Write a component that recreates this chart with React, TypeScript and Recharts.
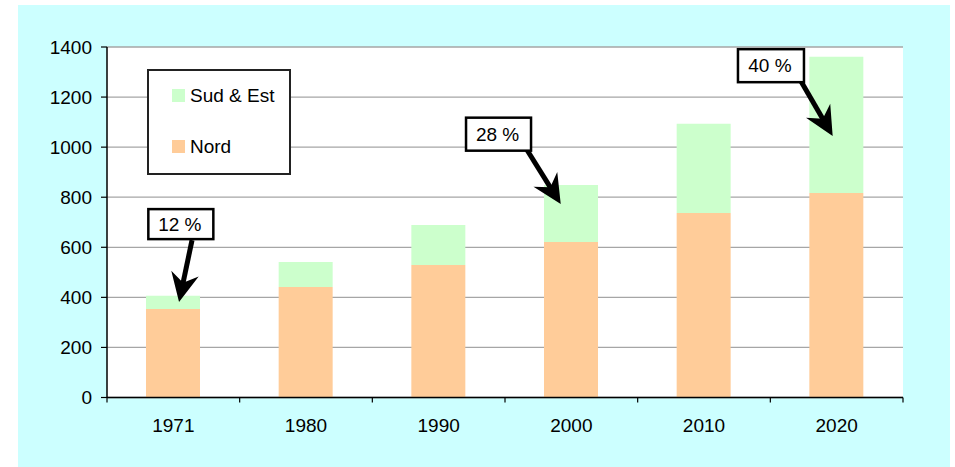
import React from "react";
import {Bar, BarChart, CartesianGrid, ReferenceDot, XAxis, YAxis} from "recharts";

const years = ['1971', '1980', '1990', '2000', '2010', '2020']
const nord = [353, 441, 529, 621, 737, 817]
const sudEst = [53, 100, 160, 228, 356, 544]
const yTicks = [0, 200, 400, 600, 800, 1000, 1200, 1400]

const calloutYears = ['1971', '2000', '2020']
const calloutLabels = ['12 %', '28 %', '40 %']
const calloutTipValues = [381, 773, 1045]

//  pixel geometry of the callouts, relative to the arrow tip
const calloutShapes = [
  {dx: 5.7, box: [-30.7, -93, 65, 30], start: [13, -62]},
  {dx: -10.6, box: [-94.7, -86.3, 65, 33], start: [-33.7, -54]},
  {dx: -4, box: [-94.7, -86.7, 66, 33], start: [-31.7, -54.7]},
]

const NORD = '#FFCC99'
const SUD = '#CCFFCC'
const FONT = '"Liberation Sans", Arial, sans-serif'

const data = years.map((year, i) => ({year, nord: nord[i], sud: sudEst[i]}))

// legend shows the top series first
const legendItems = [
  {name: 'Sud & Est', color: SUD},
  {name: 'Nord', color: NORD},
]

function Callout(props: any, index: number) {
  const {cx, cy} = props
  const g = calloutShapes[index]
  const tx = cx + g.dx
  const ty = cy
  const sx = tx + g.start[0]
  const sy = ty + g.start[1]
  const len = Math.hypot(tx - sx, ty - sy)
  const ux = (tx - sx) / len
  const uy = (ty - sy) / len
  const nx = -uy
  const ny = ux
  const L = 29
  const W = 14
  const bx = tx - L * ux
  const by = ty - L * uy
  const notchX = tx - 0.68 * L * ux
  const notchY = ty - 0.68 * L * uy
  const head = `${tx},${ty} ${bx + W * nx},${by + W * ny} ${notchX},${notchY} ${bx - W * nx},${by - W * ny}`
  const [bl, bt, bw, bh] = g.box
  return (
    <g>
      <line x1={sx} y1={sy} x2={notchX + ux} y2={notchY + uy} stroke="#000" strokeWidth={5}/>
      <polygon points={head} fill="#000"/>
      <rect x={tx + bl} y={ty + bt} width={bw} height={bh} fill="#fff" stroke="#000" strokeWidth={2.5}/>
      <text x={tx + bl + bw / 2 - 1} y={ty + bt + bh / 2} textAnchor="middle" dominantBaseline="central"
            fontSize={19} fontFamily={FONT} fill="#000">{calloutLabels[index]}</text>
    </g>
  )
}

function YearTick(props: any) {
  const {x, y, payload, index} = props
  const off = payload?.offset ?? 66.33
  const isLast = index === years.length - 1
  return (
    <g>
      <line x1={x - off} y1={y - 5} x2={x - off} y2={y} stroke="#000" strokeWidth={1.2}/>
      {isLast && <line x1={x + off} y1={y - 5} x2={x + off} y2={y} stroke="#000" strokeWidth={1.2}/>}
      <text x={x} y={y + 29.5} textAnchor="middle" fontSize={19} fontFamily={FONT} fill="#000">
        {payload.value}
      </text>
    </g>
  )
}

function LegendBox() {
  return (
    <div style={{
      position: 'absolute', left: 147, top: 69, width: 144, height: 106, boxSizing: 'border-box',
      border: '2px solid #222', background: '#fff', fontFamily: FONT, fontSize: 19, color: '#000'
    }}>
      {legendItems.map((item, i) => (
        <div key={item.name} style={{position: 'absolute', left: 23, top: 16 + i * 51, display: 'flex', alignItems: 'center', height: 17}}>
          <span style={{display: 'inline-block', width: 13, height: 13, background: item.color, marginRight: 5}}/>
          <span style={{lineHeight: '17px', whiteSpace: 'nowrap'}}>{item.name}</span>
        </div>
      ))}
    </div>
  )
}

export default function App() {
  return (
    <div style={{position: 'absolute', left: 0, top: 0, width: 955, height: 467, fontFamily: FONT}}>
      <div style={{position: 'absolute', left: 18, top: 5, width: 932, height: 462, background: '#CCFFFF'}}/>
      <div style={{position: 'absolute', left: 0, top: 0}}>
        <BarChart width={955} height={467} data={data} margin={{top: 47, right: 52, left: 0, bottom: 0}}>
          <CartesianGrid vertical={false} stroke="#a6a6a6" strokeWidth={1.3} fill="#fff"/>
          <XAxis dataKey="year" height={69.5} axisLine={{stroke: '#000', strokeWidth: 1.5}} tickLine={false}
                 tickSize={5} tickMargin={0} tick={<YearTick/>} interval={0}/>
          <YAxis width={107} domain={[0, 1400]} ticks={yTicks} interval={0}
                 axisLine={{stroke: '#000', strokeWidth: 1.5}} tickLine={{stroke: '#000', strokeWidth: 1.2}}
                 tickSize={6} tickMargin={9} tick={{fontSize: 19, fill: '#000', fontFamily: FONT}}/>
          <Bar dataKey="nord" name="Nord" stackId="a" fill={NORD} barSize={54} isAnimationActive={false}/>
          <Bar dataKey="sud" name="Sud & Est" stackId="a" fill={SUD} barSize={54} isAnimationActive={false}/>
          {calloutYears.map((year, i) => (
            <ReferenceDot key={year} x={year} y={calloutTipValues[i]} r={0} ifOverflow="visible"
                          shape={(p: any) => Callout(p, i)}/>
          ))}
        </BarChart>
      </div>
      <LegendBox/>
    </div>
  )
}
